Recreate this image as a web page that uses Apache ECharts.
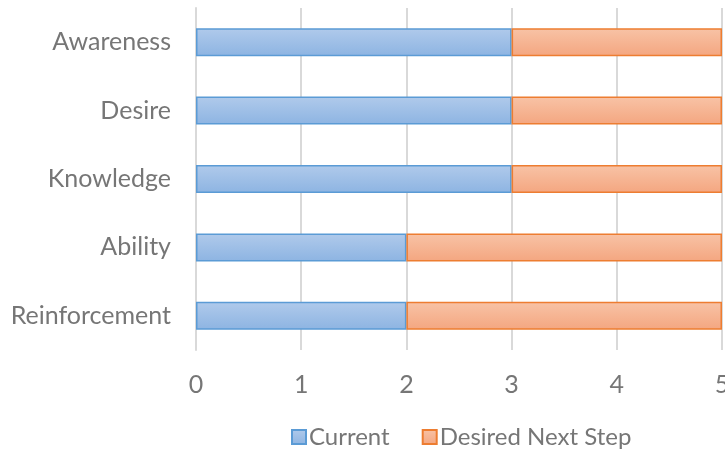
<!DOCTYPE html>
<html><head><meta charset="utf-8">
<script src="https://cdn.jsdelivr.net/npm/echarts@6/dist/echarts.min.js"></script>
<style>html,body{margin:0;padding:0;background:#fff}#c{width:725px;height:451px}</style>
</head><body><div id="c"></div>
<script>
const categories = ['Awareness','Desire','Knowledge','Ability','Reinforcement'];
const current = [3,3,3,2,2];
const desired = [2,2,2,3,3];
const xTicks = [0,1,2,3,4,5];
const FONT = 'Lato';
const TXT = '#767676';
const chart = echarts.init(document.getElementById('c'));
function grad(a,b){return new echarts.graphic.LinearGradient(0,0,0,1,[{offset:0,color:a},{offset:1,color:b}]);}
chart.setOption({
  animation:false,
  grid:{left:196,right:3,top:8,bottom:101,outerBoundsMode:'none',containLabel:false},
  legend:{top:420,left:286,itemWidth:14,itemHeight:14,itemGap:32,icon:'rect',
    textStyle:{color:TXT,fontSize:24,fontFamily:FONT,padding:[0,0,0,-2]},
    data:['Current','Desired Next Step']},
  xAxis:{type:'value',min:0,max:5,interval:1,
    axisLine:{show:false},axisTick:{show:false},
    splitLine:{lineStyle:{color:'#d9d9d9',width:2}},
    axisLabel:{color:TXT,fontSize:25,fontFamily:FONT,margin:22,
      formatter:v=>xTicks.indexOf(v)>=0?String(v):''}},
  yAxis:{type:'category',inverse:true,data:categories,
    axisLine:{show:true,lineStyle:{color:'#d9d9d9',width:2}},axisTick:{show:false},
    axisLabel:{color:TXT,fontSize:25,fontFamily:FONT,margin:25}},
  series:[
    {name:'Current',type:'bar',stack:'s',data:current,barWidth:'41%',
     itemStyle:{color:grad('#b0caeb','#8db4e2'),borderColor:'#5b9bd5',borderWidth:1.5}},
    {name:'Desired Next Step',type:'bar',stack:'s',data:desired,barWidth:'41%',
     itemStyle:{color:grad('#f8c3a6','#f4a680'),borderColor:'#ed7d31',borderWidth:1.5}}
  ]
});
</script></body></html>
